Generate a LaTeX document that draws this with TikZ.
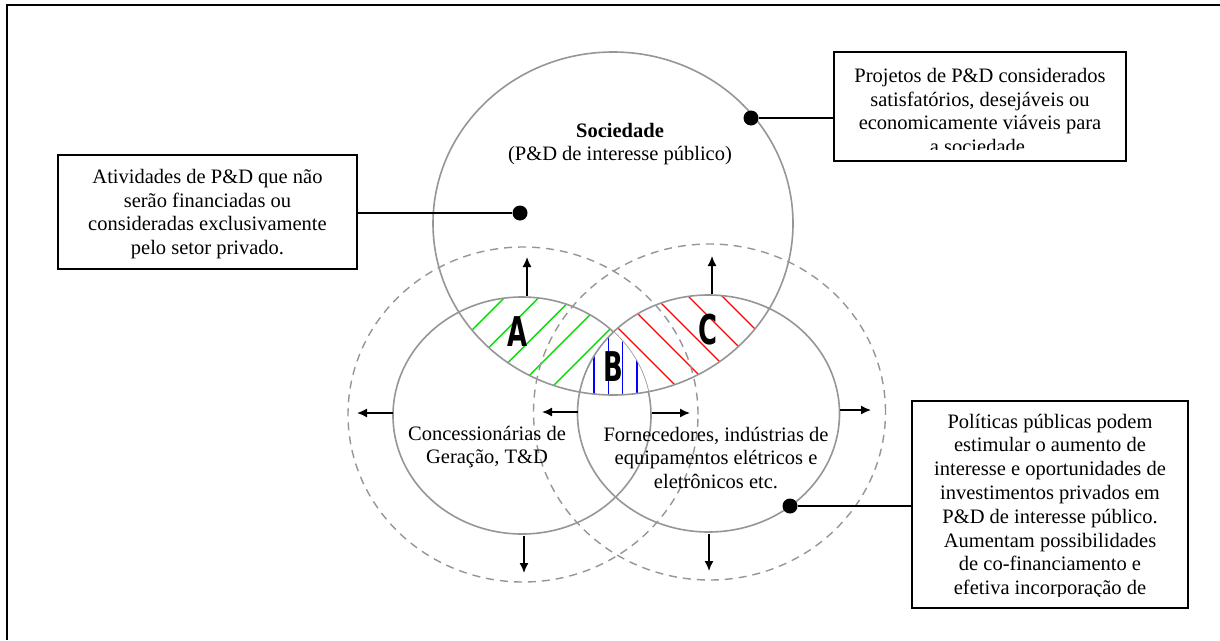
\documentclass[tikz,border=0pt]{standalone}
\usepackage{graphicx}
\usepackage{fontspec}
\setmainfont{Liberation Serif}
\newfontfamily\heavyfont{DejaVu Sans}
\usetikzlibrary{arrows.meta}
\definecolor{circgray}{RGB}{150,150,150}
\definecolor{hgreen}{RGB}{0,225,0}
\definecolor{hred}{RGB}{255,0,0}
\definecolor{hblue}{RGB}{0,0,255}
\tikzset{
  circ/.style={draw=circgray, line width=1.6pt},
  dcirc/.style={draw=circgray, line width=1.4pt, dash pattern=on 8pt off 6pt},
  boxnode/.style={draw=black, line width=1.8pt, inner sep=0pt},
  conn/.style={draw=black, line width=1.3pt},
  blackdot/.style={circle, fill=black, inner sep=0pt, minimum size=15pt},
  arr/.style={draw=black, line width=1.5pt, -{Latex[length=10pt,width=9pt]}},
  txt/.style={font=\fontsize{20.5}{23.8}\selectfont, align=center, inner sep=0pt},
  letter/.style={font=\heavyfont\bfseries\fontsize{41}{41}\selectfont, inner sep=0pt},
  hatchline/.style={line width=1.4pt}
}
\begin{document}
\begin{tikzpicture}[x=1pt,y=-1pt]
\useasboundingbox (0,0) rectangle (1220,640);
\fill[white] (0,0) rectangle (1220,640);
% frame
\draw[line width=2pt] (7,640) -- (7,5) -- (1220,5);

% green hatch A
\begin{scope}
  \clip (613,223.5) ellipse [x radius=180pt, y radius=171.5pt];
  \clip (522,415.5) ellipse [x radius=129pt, y radius=118.5pt];
  \foreach \k in {-4,...,5} {
    \pgfmathsetmacro\s{802+34.25*\k}
    \draw[hatchline, hgreen] (380,{\s-380}) -- (720,{\s-720});
  }
\end{scope}
% red hatch C
\begin{scope}
  \clip (613,223.5) ellipse [x radius=180pt, y radius=171.5pt];
  \clip (708.5,413.5) ellipse [x radius=131pt, y radius=118.5pt];
  \foreach \k in {-3,...,7} {
    \pgfmathsetmacro\s{290+34*\k}
    \draw[hatchline, hred] (540,{540-\s}) -- (840,{840-\s});
  }
\end{scope}

% left solid circle (under B patch)
\draw[circ] (522,415.5) ellipse [x radius=129pt, y radius=118.5pt];

% B patch
\begin{scope}
  \clip (613,223.5) ellipse [x radius=180pt, y radius=171.5pt];
  \clip (522,415.5) ellipse [x radius=129pt, y radius=118.5pt];
  \clip (708.5,413.5) ellipse [x radius=131pt, y radius=118.5pt];
  \fill[white] (560,300) rectangle (670,420);
  \foreach \x in {594,608.3,622.6,637} {
    \draw[hatchline, hblue] (\x,300) -- (\x,420);
  }
\end{scope}

% other circles
\draw[circ] (613,223.5) ellipse [x radius=180pt, y radius=171.5pt];
\draw[circ] (708.5,413.5) ellipse [x radius=131pt, y radius=118.5pt];
\draw[dcirc] (523,414.5) ellipse [x radius=175pt, y radius=167.5pt];
\draw[dcirc] (709.5,412) ellipse [x radius=176pt, y radius=168pt];

% letters
\node[letter] (lA) at (517,332) {\scalebox{0.63}[1]{A}};
\node[letter] (lB) at (613,367) {\scalebox{0.63}[1]{B}};
\node[letter] (lC) at (708,330) {\scalebox{0.63}[1]{C}};

% circle texts
\node[txt] (soctxt) at (620,144) {\textbf{Sociedade}\\(P\&D de interesse público)};
\node[txt] (conctxt) at (487,447) {Concessionárias de\\Geração, T\&D};
\node[txt] (forntxt) at (716,458) {Fornecedores, indústrias de\\equipamentos elétricos e\\eletrônicos etc.};

% arrows
\coordinate (u1s) at (527,296); \coordinate (u1e) at (527,257);
\coordinate (u2s) at (712,294); \coordinate (u2e) at (712,256);
\coordinate (l1s) at (393,413); \coordinate (l1e) at (357,413);
\coordinate (l2s) at (578,412); \coordinate (l2e) at (542,412);
\coordinate (r1s) at (652,413); \coordinate (r1e) at (690,413);
\coordinate (r2s) at (840,410); \coordinate (r2e) at (871,410);
\coordinate (d1s) at (524,536); \coordinate (d1e) at (524,573);
\coordinate (d2s) at (709,534); \coordinate (d2e) at (709,571);
\foreach \a in {u1,u2,l1,l2,r1,r2,d1,d2} { \draw[arr] (\a s) -- (\a e); }

% boxes
\node[boxnode, minimum width=299pt, minimum height=114pt] (boxL) at (207.5,212) {};
\node[txt] (boxLtxt) at (207.5,214) {Atividades de P\&D que não\\serão financiadas ou\\consideradas exclusivamente\\pelo setor privado.};

\node[boxnode, minimum width=292pt, minimum height=109pt] (boxTR) at (980,106.5) {};
\begin{scope}
  \clip (836,54) rectangle (1124,149);
  \node[txt] (boxTRtxt) at (980,111) {Projetos de P\&D considerados\\satisfatórios, desejáveis ou\\economicamente viáveis para\\a sociedade.};
\end{scope}

\node[boxnode, minimum width=276pt, minimum height=207pt] (boxR) at (1050,504.5) {};
\begin{scope}
  \clip (914,403) rectangle (1186,596);
  \node[txt] (boxRtxt) at (1050,506.5) {Políticas públicas podem\\estimular o aumento de\\interesse e oportunidades de\\investimentos privados em\\P\&D de interesse público.\\Aumentam possibilidades\\de co-financiamento e\\efetiva incorporação de};
\end{scope}

% dots and connectors
\node[blackdot] (dotL) at (520,213) {};
\node[blackdot] (dotTR) at (751,118) {};
\node[blackdot] (dotR) at (790,506) {};
\draw[conn] (dotL) -- (dotL -| boxL.east);
\draw[conn] (dotTR) -- (dotTR -| boxTR.west);
\draw[conn] (dotR) -- (dotR -| boxR.west);
\end{tikzpicture}
\end{document}
